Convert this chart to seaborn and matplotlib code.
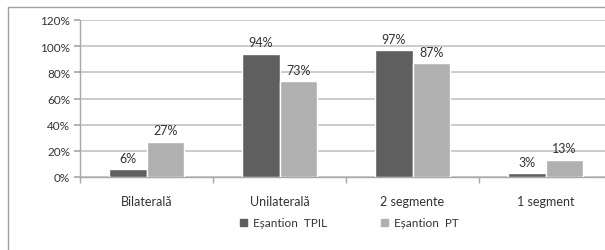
import matplotlib
matplotlib.use("Agg")
import matplotlib.pyplot as plt
import seaborn as sns
import pandas as pd
from matplotlib.patches import Rectangle
from matplotlib.ticker import FuncFormatter, MultipleLocator

categories = ["Bilaterală", "Unilaterală", "2 segmente", "1 segment"]
series_names = ["Eșantion  TPIL", "Eșantion  PT"]
tpil_values = [6, 94, 97, 3]
pt_values = [27, 73, 87, 13]
colors = ["#5f5f5f", "#b0b0b0"]

df = pd.DataFrame({
    "cat": categories * 2,
    "val": tpil_values + pt_values,
    "series": [series_names[0]] * 4 + [series_names[1]] * 4,
})

sns.set_theme(style="white")
plt.rcParams["font.family"] = ["Lato", "DejaVu Sans"]

fig = plt.figure(figsize=(6.05, 2.51), dpi=100)
W, H = 605, 251
ax = fig.add_axes([80 / W, (H - 178) / H, (612 - 80) / W, (178 - 21) / H])

sns.barplot(data=df, x="cat", y="val", hue="series", palette=colors,
            width=0.57, saturation=1, ax=ax, legend=False, zorder=3)

ax.set_ylim(0, 120)
ax.set_xlim(-0.5, 3.5)
ax.yaxis.set_major_locator(MultipleLocator(20))
ax.yaxis.set_major_formatter(FuncFormatter(lambda v, p: f"{int(v)}%"))
ax.grid(axis="y", color="#c4c4c4", linewidth=1.2, zorder=0)
ax.set_axisbelow(True)
ax.set_xlabel("")
ax.set_ylabel("")
for s in ["top", "right"]:
    ax.spines[s].set_visible(False)
for s in ["left", "bottom"]:
    ax.spines[s].set_color("#a8a8a8")
    ax.spines[s].set_linewidth(1)
ax.tick_params(axis="y", left=True, length=4, color="#a8a8a8", labelsize=8.5, labelcolor="#333333", pad=3)
ax.tick_params(axis="x", bottom=False, labelsize=9, labelcolor="#333333", pad=7)
ax.set_xticks([-0.5, 0.5, 1.5, 2.5, 3.5], minor=True)
ax.tick_params(axis="x", which="minor", bottom=True, length=4, color="#a8a8a8")

for cont in ax.containers:
    ax.bar_label(cont, labels=[f"{int(v)}%" for v in cont.datavalues],
                 padding=4, fontsize=9, color="#333333")

# legend
handles = [Rectangle((0, 0), 1, 1, color=c) for c in colors]
fig.legend(handles, series_names, loc="center", bbox_to_anchor=(0.577, (H - 224) / H),
           ncol=2, frameon=False, fontsize=8.5, handlelength=0.6, handleheight=0.6,
           columnspacing=4.6, handletextpad=0.5, labelcolor="#333333")

# outer frame (only top and left visible in crop)
fig.add_artist(plt.Line2D([8 / W, 1], [(H - 8) / H] * 2, color="#a0a0a0", lw=1))
fig.add_artist(plt.Line2D([8 / W] * 2, [0, (H - 8) / H], color="#a0a0a0", lw=1))

fig.savefig("out.png", dpi=100)
